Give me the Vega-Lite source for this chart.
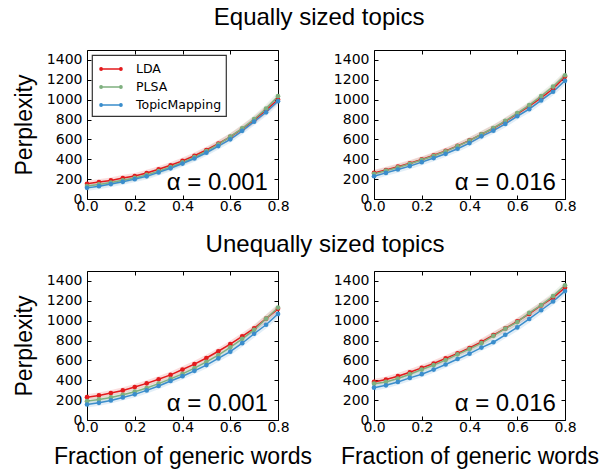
{
  "$schema": "https://vega.github.io/schema/vega-lite/v6.json",
  "background": "white",
  "padding": {"left": 12, "top": 6, "right": 5, "bottom": 5},
  "datasets": {
    "perp": [
      {"panel":"A","x":0.00,"LDA":153,"PLSA":130,"TopicMapping":112},
      {"panel":"A","x":0.05,"LDA":170,"PLSA":147,"TopicMapping":129},
      {"panel":"A","x":0.10,"LDA":187,"PLSA":165,"TopicMapping":150},
      {"panel":"A","x":0.15,"LDA":211,"PLSA":188,"TopicMapping":173},
      {"panel":"A","x":0.20,"LDA":231,"PLSA":212,"TopicMapping":200},
      {"panel":"A","x":0.25,"LDA":262,"PLSA":243,"TopicMapping":228},
      {"panel":"A","x":0.30,"LDA":299,"PLSA":280,"TopicMapping":268},
      {"panel":"A","x":0.35,"LDA":340,"PLSA":322,"TopicMapping":309},
      {"panel":"A","x":0.40,"LDA":384,"PLSA":368,"TopicMapping":357},
      {"panel":"A","x":0.45,"LDA":435,"PLSA":422,"TopicMapping":408},
      {"panel":"A","x":0.50,"LDA":493,"PLSA":482,"TopicMapping":466},
      {"panel":"A","x":0.55,"LDA":557,"PLSA":550,"TopicMapping":533},
      {"panel":"A","x":0.60,"LDA":625,"PLSA":628,"TopicMapping":601},
      {"panel":"A","x":0.65,"LDA":707,"PLSA":712,"TopicMapping":686},
      {"panel":"A","x":0.70,"LDA":795,"PLSA":805,"TopicMapping":778},
      {"panel":"A","x":0.75,"LDA":895,"PLSA":910,"TopicMapping":873},
      {"panel":"A","x":0.80,"LDA":1002,"PLSA":1035,"TopicMapping":985},
      {"panel":"B","x":0.00,"LDA":263,"PLSA":253,"TopicMapping":229},
      {"panel":"B","x":0.05,"LDA":292,"PLSA":285,"TopicMapping":263},
      {"panel":"B","x":0.10,"LDA":325,"PLSA":318,"TopicMapping":297},
      {"panel":"B","x":0.15,"LDA":360,"PLSA":354,"TopicMapping":331},
      {"panel":"B","x":0.20,"LDA":398,"PLSA":393,"TopicMapping":371},
      {"panel":"B","x":0.25,"LDA":440,"PLSA":435,"TopicMapping":412},
      {"panel":"B","x":0.30,"LDA":484,"PLSA":480,"TopicMapping":455},
      {"panel":"B","x":0.35,"LDA":535,"PLSA":532,"TopicMapping":506},
      {"panel":"B","x":0.40,"LDA":590,"PLSA":588,"TopicMapping":563},
      {"panel":"B","x":0.45,"LDA":650,"PLSA":652,"TopicMapping":631},
      {"panel":"B","x":0.50,"LDA":712,"PLSA":715,"TopicMapping":688},
      {"panel":"B","x":0.55,"LDA":782,"PLSA":787,"TopicMapping":756},
      {"panel":"B","x":0.60,"LDA":858,"PLSA":864,"TopicMapping":833},
      {"panel":"B","x":0.65,"LDA":935,"PLSA":945,"TopicMapping":904},
      {"panel":"B","x":0.70,"LDA":1018,"PLSA":1035,"TopicMapping":992},
      {"panel":"B","x":0.75,"LDA":1110,"PLSA":1132,"TopicMapping":1080},
      {"panel":"B","x":0.80,"LDA":1232,"PLSA":1246,"TopicMapping":1190},
      {"panel":"C","x":0.00,"LDA":230,"PLSA":190,"TopicMapping":156},
      {"panel":"C","x":0.05,"LDA":247,"PLSA":207,"TopicMapping":173},
      {"panel":"C","x":0.10,"LDA":271,"PLSA":227,"TopicMapping":197},
      {"panel":"C","x":0.15,"LDA":298,"PLSA":254,"TopicMapping":227},
      {"panel":"C","x":0.20,"LDA":332,"PLSA":285,"TopicMapping":258},
      {"panel":"C","x":0.25,"LDA":369,"PLSA":322,"TopicMapping":298},
      {"panel":"C","x":0.30,"LDA":410,"PLSA":366,"TopicMapping":342},
      {"panel":"C","x":0.35,"LDA":454,"PLSA":414,"TopicMapping":393},
      {"panel":"C","x":0.40,"LDA":508,"PLSA":464,"TopicMapping":441},
      {"panel":"C","x":0.45,"LDA":563,"PLSA":522,"TopicMapping":495},
      {"panel":"C","x":0.50,"LDA":624,"PLSA":586,"TopicMapping":553},
      {"panel":"C","x":0.55,"LDA":692,"PLSA":654,"TopicMapping":620},
      {"panel":"C","x":0.60,"LDA":763,"PLSA":732,"TopicMapping":688},
      {"panel":"C","x":0.65,"LDA":841,"PLSA":817,"TopicMapping":773},
      {"panel":"C","x":0.70,"LDA":922,"PLSA":908,"TopicMapping":868},
      {"panel":"C","x":0.75,"LDA":1020,"PLSA":1020,"TopicMapping":959},
      {"panel":"C","x":0.80,"LDA":1119,"PLSA":1132,"TopicMapping":1068},
      {"panel":"D","x":0.00,"LDA":383,"PLSA":366,"TopicMapping":325},
      {"panel":"D","x":0.05,"LDA":407,"PLSA":383,"TopicMapping":349},
      {"panel":"D","x":0.10,"LDA":441,"PLSA":417,"TopicMapping":383},
      {"panel":"D","x":0.15,"LDA":481,"PLSA":461,"TopicMapping":424},
      {"panel":"D","x":0.20,"LDA":525,"PLSA":508,"TopicMapping":461},
      {"panel":"D","x":0.25,"LDA":569,"PLSA":553,"TopicMapping":508},
      {"panel":"D","x":0.30,"LDA":620,"PLSA":603,"TopicMapping":559},
      {"panel":"D","x":0.35,"LDA":671,"PLSA":661,"TopicMapping":614},
      {"panel":"D","x":0.40,"LDA":725,"PLSA":715,"TopicMapping":668},
      {"panel":"D","x":0.45,"LDA":786,"PLSA":773,"TopicMapping":729},
      {"panel":"D","x":0.50,"LDA":854,"PLSA":847,"TopicMapping":783},
      {"panel":"D","x":0.55,"LDA":922,"PLSA":919,"TopicMapping":858},
      {"panel":"D","x":0.60,"LDA":993,"PLSA":986,"TopicMapping":932},
      {"panel":"D","x":0.65,"LDA":1068,"PLSA":1078,"TopicMapping":1017},
      {"panel":"D","x":0.70,"LDA":1153,"PLSA":1156,"TopicMapping":1105},
      {"panel":"D","x":0.75,"LDA":1231,"PLSA":1247,"TopicMapping":1193},
      {"panel":"D","x":0.80,"LDA":1332,"PLSA":1356,"TopicMapping":1298}
    ]
  },
  "config": {
    "view": {"stroke": "black", "strokeWidth": 1},
    "axis": {
      "grid": false,
      "labelFont": "DejaVu Sans",
      "labelFontSize": 14,
      "labelColor": "black",
      "tickColor": "black",
      "domain": false,
      "tickSize": -4,
      "labelFlush": false,
      "labelOverlap": false,
      "titleFont": "Liberation Sans",
      "titleFontSize": 23,
      "titleFontWeight": "normal",
      "titleColor": "black"
    },
    "legend": {
      "labelFont": "DejaVu Sans",
      "labelFontSize": 12.5,
      "labelColor": "black",
      "strokeColor": "#333333",
      "strokeWidth": 1.2,
      "fillColor": "white",
      "padding": 4,
      "symbolOffset": 5,
      "offset": 5,
      "rowPadding": 1,
      "labelOffset": 15,
      "symbolStrokeWidth": 1.5,
      "symbolSize": 324,
      "symbolOpacity": 1,
      "symbolType": "M-1.1,0L1.1,0M-0.97,0A0.13,0.13 0 1,1 -1.23,0A0.13,0.13 0 1,1 -0.97,0ZM1.23,0A0.13,0.13 0 1,1 0.97,0A0.13,0.13 0 1,1 1.23,0ZM-1.05,0A0.05,0.05 0 1,1 -1.15,0A0.05,0.05 0 1,1 -1.05,0ZM1.15,0A0.05,0.05 0 1,1 1.05,0A0.05,0.05 0 1,1 1.15,0Z"
    },
    "title": {"font": "Liberation Sans", "fontSize": 24, "fontWeight": "normal", "color": "black"}
  },
  "resolve": {"scale": {"color": "independent"}},
  "spacing": 19,
  "vconcat": [
    {
      "title": {"text": "Equally sized topics", "anchor": "middle", "offset": 19, "dx": 24},
      "bounds": "flush",
      "spacing": 96,
      "resolve": {"scale": {"color": "independent"}},
      "hconcat": [
        {
          "width": 191, "height": 149,
          "layer": [
            {
              "data": {"name": "perp"},
              "transform": [{"filter": "datum.panel == 'A'"}, {"fold": ["LDA", "PLSA", "TopicMapping"], "as": ["method", "value"]}],
              "resolve": {"axis": {"x": "independent", "y": "independent"}},
              "layer": [
                {"mark": {"type": "line", "strokeWidth": 6, "opacity": 0.15},
                 "encoding": {
                   "x": {"field": "x", "type": "quantitative", "scale": {"domain": [0, 0.8]}, "axis": {"orient": "top", "values": [0, 0.2, 0.4, 0.6, 0.8], "labels": false, "title": null}},
                   "y": {"field": "value", "type": "quantitative", "scale": {"domain": [0, 1500], "nice": false}, "axis": {"orient": "right", "values": [0, 200, 400, 600, 800, 1000, 1200, 1400], "labels": false, "title": null}},
                   "color": {"field": "method", "type": "nominal", "scale": {"domain": ["LDA", "PLSA", "TopicMapping"], "range": ["#e31a1c", "#7fb07f", "#3a8dcc"]}, "legend": {"orient": "top-left", "title": null, "symbolOpacity": 1, "encode": {"symbols": {"update": {"opacity": {"value": 1}, "strokeOpacity": {"value": 1}}}}}}}},
                {"mark": {"type": "line", "strokeWidth": 1.5},
                 "encoding": {
                   "x": {"field": "x", "type": "quantitative", "axis": {"values": [0, 0.2, 0.4, 0.6, 0.8], "format": ".1f", "labelPadding": 4, "title": null}},
                   "y": {"field": "value", "type": "quantitative", "axis": {"values": [0, 200, 400, 600, 800, 1000, 1200, 1400], "format": "d", "labelPadding": 9, "title": "Perplexity", "titlePadding": 10}},
                   "color": {"field": "method", "type": "nominal", "legend": {"orient": "top-left", "title": null}}}},
                {"mark": {"type": "point", "filled": true, "size": 22, "opacity": 1},
                 "encoding": {
                   "x": {"field": "x", "type": "quantitative", "axis": null},
                   "y": {"field": "value", "type": "quantitative", "axis": null},
                   "color": {"field": "method", "type": "nominal", "legend": {"orient": "top-left", "title": null}}}}
              ]
            },
            {
              "data": {"values": [{"label": "α = 0.001"}]},
              "mark": {"type": "text", "align": "right", "baseline": "alphabetic", "font": "Liberation Sans", "fontSize": 24, "color": "black"},
              "encoding": {
                "text": {"field": "label"},
                "x": {"datum": 0.758, "type": "quantitative", "axis": null},
                "y": {"datum": 89, "type": "quantitative", "axis": null}
              }
            }
          ]
        },
        {
          "width": 191, "height": 149,
          "layer": [
            {
              "data": {"name": "perp"},
              "transform": [{"filter": "datum.panel == 'B'"}, {"fold": ["LDA", "PLSA", "TopicMapping"], "as": ["method", "value"]}],
              "resolve": {"axis": {"x": "independent", "y": "independent"}},
              "layer": [
                {"mark": {"type": "line", "strokeWidth": 6, "opacity": 0.15},
                 "encoding": {
                   "x": {"field": "x", "type": "quantitative", "scale": {"domain": [0, 0.8]}, "axis": {"orient": "top", "values": [0, 0.2, 0.4, 0.6, 0.8], "labels": false, "title": null}},
                   "y": {"field": "value", "type": "quantitative", "scale": {"domain": [0, 1500], "nice": false}, "axis": {"orient": "right", "values": [0, 200, 400, 600, 800, 1000, 1200, 1400], "labels": false, "title": null}},
                   "color": {"field": "method", "type": "nominal", "scale": {"domain": ["LDA", "PLSA", "TopicMapping"], "range": ["#e31a1c", "#7fb07f", "#3a8dcc"]}, "legend": null}}},
                {"mark": {"type": "line", "strokeWidth": 1.5},
                 "encoding": {
                   "x": {"field": "x", "type": "quantitative", "axis": {"values": [0, 0.2, 0.4, 0.6, 0.8], "format": ".1f", "labelPadding": 4, "title": null}},
                   "y": {"field": "value", "type": "quantitative", "axis": {"values": [0, 200, 400, 600, 800, 1000, 1200, 1400], "format": "d", "labelPadding": 9, "title": null}},
                   "color": {"field": "method", "type": "nominal", "legend": null}}},
                {"mark": {"type": "point", "filled": true, "size": 22, "opacity": 1},
                 "encoding": {
                   "x": {"field": "x", "type": "quantitative", "axis": null},
                   "y": {"field": "value", "type": "quantitative", "axis": null},
                   "color": {"field": "method", "type": "nominal", "legend": null}}}
              ]
            },
            {
              "data": {"values": [{"label": "α = 0.016"}]},
              "mark": {"type": "text", "align": "right", "baseline": "alphabetic", "font": "Liberation Sans", "fontSize": 24, "color": "black"},
              "encoding": {
                "text": {"field": "label"},
                "x": {"datum": 0.762, "type": "quantitative", "axis": null},
                "y": {"datum": 89, "type": "quantitative", "axis": null}
              }
            }
          ]
        }
      ]
    },
    {
      "title": {"text": "Unequally sized topics", "anchor": "middle", "offset": 13, "dx": 19},
      "bounds": "flush",
      "spacing": 96,
      "resolve": {"scale": {"color": "independent"}},
      "hconcat": [
        {
          "width": 191, "height": 149,
          "layer": [
            {
              "data": {"name": "perp"},
              "transform": [{"filter": "datum.panel == 'C'"}, {"fold": ["LDA", "PLSA", "TopicMapping"], "as": ["method", "value"]}],
              "resolve": {"axis": {"x": "independent", "y": "independent"}},
              "layer": [
                {"mark": {"type": "line", "strokeWidth": 6, "opacity": 0.15},
                 "encoding": {
                   "x": {"field": "x", "type": "quantitative", "scale": {"domain": [0, 0.8]}, "axis": {"orient": "top", "values": [0, 0.2, 0.4, 0.6, 0.8], "labels": false, "title": null}},
                   "y": {"field": "value", "type": "quantitative", "scale": {"domain": [0, 1500], "nice": false}, "axis": {"orient": "right", "values": [0, 200, 400, 600, 800, 1000, 1200, 1400], "labels": false, "title": null}},
                   "color": {"field": "method", "type": "nominal", "scale": {"domain": ["LDA", "PLSA", "TopicMapping"], "range": ["#e31a1c", "#7fb07f", "#3a8dcc"]}, "legend": null}}},
                {"mark": {"type": "line", "strokeWidth": 1.5},
                 "encoding": {
                   "x": {"field": "x", "type": "quantitative", "axis": {"values": [0, 0.2, 0.4, 0.6, 0.8], "format": ".1f", "labelPadding": 4, "title": "Fraction of generic words", "titlePadding": 11}},
                   "y": {"field": "value", "type": "quantitative", "axis": {"values": [0, 200, 400, 600, 800, 1000, 1200, 1400], "format": "d", "labelPadding": 9, "title": "Perplexity", "titlePadding": 10}},
                   "color": {"field": "method", "type": "nominal", "legend": null}}},
                {"mark": {"type": "point", "filled": true, "size": 22, "opacity": 1},
                 "encoding": {
                   "x": {"field": "x", "type": "quantitative", "axis": null},
                   "y": {"field": "value", "type": "quantitative", "axis": null},
                   "color": {"field": "method", "type": "nominal", "legend": null}}}
              ]
            },
            {
              "data": {"values": [{"label": "α = 0.001"}]},
              "mark": {"type": "text", "align": "right", "baseline": "alphabetic", "font": "Liberation Sans", "fontSize": 24, "color": "black"},
              "encoding": {
                "text": {"field": "label"},
                "x": {"datum": 0.758, "type": "quantitative", "axis": null},
                "y": {"datum": 89, "type": "quantitative", "axis": null}
              }
            }
          ]
        },
        {
          "width": 191, "height": 149,
          "layer": [
            {
              "data": {"name": "perp"},
              "transform": [{"filter": "datum.panel == 'D'"}, {"fold": ["LDA", "PLSA", "TopicMapping"], "as": ["method", "value"]}],
              "resolve": {"axis": {"x": "independent", "y": "independent"}},
              "layer": [
                {"mark": {"type": "line", "strokeWidth": 6, "opacity": 0.15},
                 "encoding": {
                   "x": {"field": "x", "type": "quantitative", "scale": {"domain": [0, 0.8]}, "axis": {"orient": "top", "values": [0, 0.2, 0.4, 0.6, 0.8], "labels": false, "title": null}},
                   "y": {"field": "value", "type": "quantitative", "scale": {"domain": [0, 1500], "nice": false}, "axis": {"orient": "right", "values": [0, 200, 400, 600, 800, 1000, 1200, 1400], "labels": false, "title": null}},
                   "color": {"field": "method", "type": "nominal", "scale": {"domain": ["LDA", "PLSA", "TopicMapping"], "range": ["#e31a1c", "#7fb07f", "#3a8dcc"]}, "legend": null}}},
                {"mark": {"type": "line", "strokeWidth": 1.5},
                 "encoding": {
                   "x": {"field": "x", "type": "quantitative", "axis": {"values": [0, 0.2, 0.4, 0.6, 0.8], "format": ".1f", "labelPadding": 4, "title": "Fraction of generic words", "titlePadding": 11}},
                   "y": {"field": "value", "type": "quantitative", "axis": {"values": [0, 200, 400, 600, 800, 1000, 1200, 1400], "format": "d", "labelPadding": 9, "title": null}},
                   "color": {"field": "method", "type": "nominal", "legend": null}}},
                {"mark": {"type": "point", "filled": true, "size": 22, "opacity": 1},
                 "encoding": {
                   "x": {"field": "x", "type": "quantitative", "axis": null},
                   "y": {"field": "value", "type": "quantitative", "axis": null},
                   "color": {"field": "method", "type": "nominal", "legend": null}}}
              ]
            },
            {
              "data": {"values": [{"label": "α = 0.016"}]},
              "mark": {"type": "text", "align": "right", "baseline": "alphabetic", "font": "Liberation Sans", "fontSize": 24, "color": "black"},
              "encoding": {
                "text": {"field": "label"},
                "x": {"datum": 0.762, "type": "quantitative", "axis": null},
                "y": {"datum": 89, "type": "quantitative", "axis": null}
              }
            }
          ]
        }
      ]
    }
  ]
}
